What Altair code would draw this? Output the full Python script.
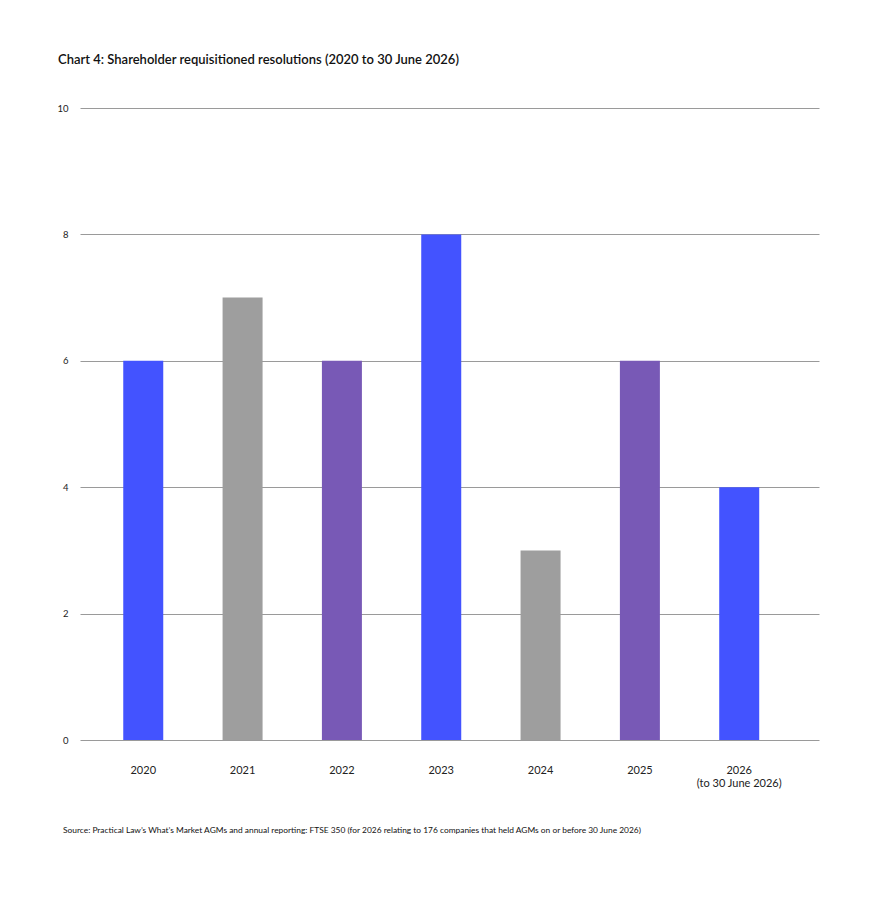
import altair as alt
import pandas as pd

years = ["2020", "2021", "2022", "2023", "2024", "2025", "2026|(to 30 June 2026)"]
values = [6, 7, 6, 8, 3, 6, 4]
colours = ["#4353FF", "#9E9E9E", "#7859B6", "#4353FF", "#9E9E9E", "#7859B6", "#4353FF"]
y_ticks = [0, 2, 4, 6, 8, 10]

title_text = "Chart 4: Shareholder requisitioned resolutions (2020 to 30 June 2026)"
source_text = ("Source: Practical Law\u2019s What\u2019s Market AGMs and annual reporting: FTSE 350 "
               "(for 2026 relating to 176 companies that held AGMs on or before 30 June 2026)")

FONT = "Lato"

df = pd.DataFrame({"year": years, "value": values})

bars = alt.Chart(df).mark_bar(size=40).encode(
    x=alt.X("year:N", sort=years, title=None,
            scale=alt.Scale(paddingInner=0.6, paddingOuter=0.52, align=0.42),
            axis=alt.Axis(labelAngle=0, ticks=False, domain=False, grid=False,
                          labelPadding=24, labelFontSize=11, labelColor="#222222",
                          labelFont=FONT, labelLineHeight=13,
                          labelExpr="split(datum.label, '|')")),
    y=alt.Y("value:Q", title=None,
            scale=alt.Scale(domain=[0, 10]),
            axis=alt.Axis(values=y_ticks, ticks=False, domain=False, grid=True,
                          gridColor="#9a9a9a", gridWidth=1,
                          labelPadding=12, labelFontSize=9.5, labelColor="#222222",
                          labelFont=FONT)),
    color=alt.Color("year:N", sort=years,
                    scale=alt.Scale(domain=years, range=colours), legend=None),
)

source = alt.Chart(pd.DataFrame({"t": [source_text]})).mark_text(
    align="left", baseline="middle", fontSize=8.4, font=FONT, color="#111111"
).encode(text="t:N", x=alt.value(-17), y=alt.value(722))

chart = alt.layer(bars, source).properties(
    width=739,
    height=632,
    title=alt.TitleParams(title_text, anchor="start", frame="group", dx=-22,
                          offset=36, fontSize=13, font=FONT, fontWeight=600,
                          color="#111111"),
    autosize=alt.AutoSizeParams(type="none"),
    padding={"left": 72, "top": 100, "right": 50, "bottom": 140},
    background="white",
).configure_view(stroke=None, strokeWidth=0)

chart.save("out.html", embed_options={"renderer": "svg", "actions": False})
